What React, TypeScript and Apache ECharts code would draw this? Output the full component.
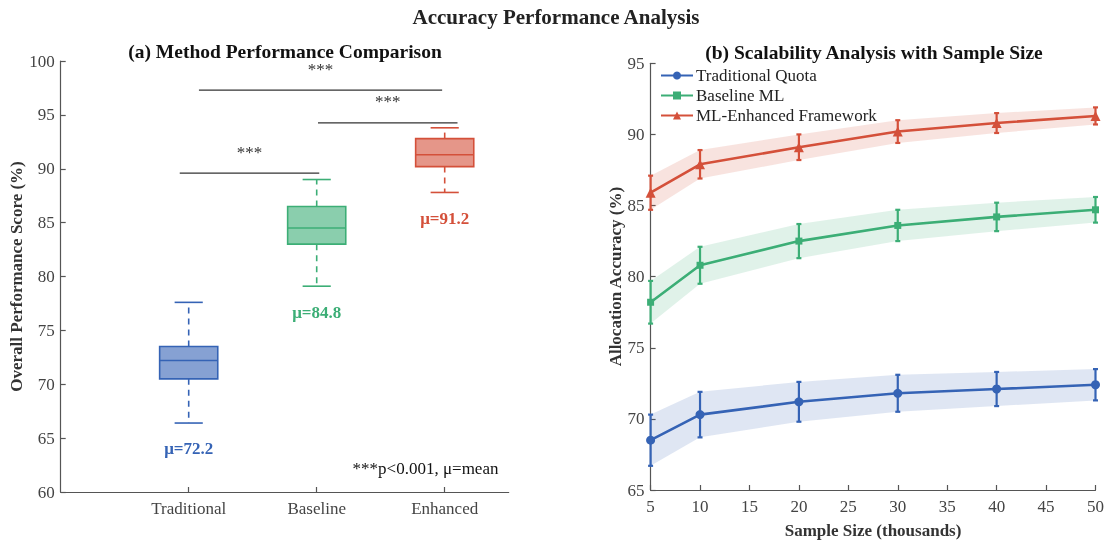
import React, { useEffect, useRef } from "react";
import * as echarts from "echarts";

// ---------- Data: (a) Method Performance Comparison ----------
const methods = ["Traditional", "Baseline", "Enhanced"];
const boxLow = [66.4, 79.1, 87.8];
const boxQ1 = [70.5, 83.0, 90.2];
const boxMedian = [72.2, 84.5, 91.3];
const boxQ3 = [73.5, 86.5, 92.8];
const boxHigh = [77.6, 89.0, 93.8];
const methodMeans = [72.2, 84.8, 91.2];
const methodColors = ["#3563b5", "#3cae76", "#d4503a"];

const sigStart = [0.93, 1.08, 2.01];
const sigEnd = [2.02, 2.98, 3.1];
const sigY = [89.6, 97.3, 94.25];
const sigText = ["***", "***", "***"];
const noteText = "***p<0.001, \u03bc=mean";

// ---------- Data: (b) Scalability Analysis ----------
const sampleSizes = [5, 10, 20, 30, 40, 50];
const seriesNames = ["Traditional Quota", "Baseline ML", "ML-Enhanced Framework"];
const tradMean = [68.5, 70.3, 71.2, 71.8, 72.1, 72.4];
const tradErr = [1.8, 1.6, 1.4, 1.3, 1.2, 1.1];
const baseMean = [78.2, 80.8, 82.5, 83.6, 84.2, 84.7];
const baseErr = [1.5, 1.3, 1.2, 1.1, 1.0, 0.9];
const enhMean = [85.9, 87.9, 89.1, 90.2, 90.8, 91.3];
const enhErr = [1.2, 1.0, 0.9, 0.8, 0.7, 0.6];
const lineColors = ["#3563b5", "#3cae76", "#d4503a"];
const lineSymbols = ["circle", "rect", "triangle"];
const lineSymbolSizes = [9, 7, 10];

const FONT = '"Liberation Serif", "Times New Roman", serif';

function rgba(hex: string, a: number) {
  const n = parseInt(hex.slice(1), 16);
  return `rgba(${(n >> 16) & 255},${(n >> 8) & 255},${n & 255},${a})`;
}

export default function App() {
  const ref = useRef<HTMLDivElement>(null);

  useEffect(() => {
    if (!ref.current) return;
    const chart = echarts.init(ref.current, undefined, { renderer: "svg" });

    const means = [tradMean, baseMean, enhMean];
    const errs = [tradErr, baseErr, enhErr];

    const axisLineStyle = { color: "#555", width: 1.2 };
    const tickLabel = { color: "#444", fontFamily: FONT, fontSize: 17 };
    const axisName = { color: "#333", fontFamily: FONT, fontSize: 17, fontWeight: "bold" as const };

    const boxHalf = 0.227;
    const capHalf = 0.11;
    const labelOffset = 2.4;

    const rightSeries: any[] = [];
    means.forEach((m, g) => {
      const e = errs[g];
      const color = lineColors[g];
      rightSeries.push({
        name: `${seriesNames[g]} band`,
        type: "custom",
        xAxisIndex: 1,
        yAxisIndex: 1,
        data: sampleSizes.map((x, i) => [x, m[i] - e[i], m[i] + e[i]]),
        encode: { x: 0, y: [1, 2] },
        silent: true,
        z: 1,
        renderItem: (params: any, api: any) => {
          if (params.dataIndex !== 0) return null;
          const upper = sampleSizes.map((x, i) => api.coord([x, m[i] + e[i]]));
          const lower = sampleSizes.map((x, i) => api.coord([x, m[i] - e[i]])).reverse();
          return {
            type: "polygon",
            shape: { points: upper.concat(lower) },
            style: { fill: rgba(color, 0.16), stroke: "none" },
          };
        },
      });
    });
    means.forEach((m, g) => {
      const e = errs[g];
      const color = lineColors[g];
      rightSeries.push({
        name: `${seriesNames[g]} error`,
        type: "custom",
        xAxisIndex: 1,
        yAxisIndex: 1,
        data: sampleSizes.map((x, i) => [x, m[i], e[i]]),
        encode: { x: 0, y: 1 },
        z: 3,
        renderItem: (params: any, api: any) => {
          const x = api.value(0);
          const v = api.value(1);
          const er = api.value(2);
          const top = api.coord([x, v + er]);
          const bot = api.coord([x, v - er]);
          const st = { stroke: color, lineWidth: 2.2 };
          return {
            type: "group",
            children: [
              { type: "line", shape: { x1: top[0], y1: top[1], x2: bot[0], y2: bot[1] }, style: st },
              { type: "line", shape: { x1: top[0] - 2.5, y1: top[1], x2: top[0] + 2.5, y2: top[1] }, style: st },
              { type: "line", shape: { x1: bot[0] - 2.5, y1: bot[1], x2: bot[0] + 2.5, y2: bot[1] }, style: st },
            ],
          };
        },
      });
    });
    means.forEach((m, g) => {
      const color = lineColors[g];
      rightSeries.push({
        name: seriesNames[g],
        type: "line",
        xAxisIndex: 1,
        yAxisIndex: 1,
        data: sampleSizes.map((x, i) => [x, m[i]]),
        symbol: lineSymbols[g],
        symbolSize: lineSymbolSizes[g],
        itemStyle: { color },
        lineStyle: { color, width: 2.6 },
        z: 4,
      });
    });

    const option: any = {
      animation: false,
      graphic: [
        {
          type: "text",
          x: 556,
          y: 17,
          style: { text: "Accuracy Performance Analysis", font: `bold 21px ${FONT}`, fill: "#222", align: "center", verticalAlign: "middle" },
        },
        {
          type: "text",
          x: 285,
          y: 51,
          style: { text: "(a) Method Performance Comparison", font: `bold 19.5px ${FONT}`, fill: "#111", align: "center", verticalAlign: "middle" },
        },
        {
          type: "text",
          x: 874,
          y: 52,
          style: { text: "(b) Scalability Analysis with Sample Size", font: `bold 19.5px ${FONT}`, fill: "#111", align: "center", verticalAlign: "middle" },
        },
      ],
      legend: {
        data: seriesNames,
        orient: "vertical",
        left: 660,
        top: 67,
        itemWidth: 32,
        itemHeight: 10,
        itemGap: 3,
        padding: 0,
        textStyle: { color: "#222", fontFamily: FONT, fontSize: 17, lineHeight: 17, padding: [0, 0, 0, -2] },
      },
      grid: [
        { left: 60.7, top: 61, width: 448, height: 431 },
        { left: 650.6, top: 63.3, width: 447.4, height: 431.2 },
      ],
      xAxis: [
        {
          gridIndex: 0,
          type: "value",
          min: 0,
          max: 3.5,
          interval: 1,
          axisLine: { lineStyle: axisLineStyle },
          axisTick: { inside: true, length: 5, lineStyle: axisLineStyle, customValues: [1, 2, 3] },
          axisLabel: {
            ...tickLabel,
            margin: 8,
            customValues: [1, 2, 3],
            formatter: (v: number) => methods[Math.round(v) - 1] ?? "",
          },
          splitLine: { show: false },
        },
        {
          gridIndex: 1,
          type: "value",
          min: 5,
          max: 50,
          interval: 5,
          name: "Sample Size (thousands)",
          nameLocation: "middle",
          nameGap: 32,
          nameTextStyle: axisName,
          axisLine: { lineStyle: axisLineStyle },
          axisTick: { inside: true, length: 5, lineStyle: axisLineStyle },
          axisLabel: { ...tickLabel, margin: 8 },
          splitLine: { show: false },
        },
      ],
      yAxis: [
        {
          gridIndex: 0,
          type: "value",
          min: 60,
          max: 100,
          interval: 5,
          name: "Overall Performance Score (%)",
          nameLocation: "middle",
          nameGap: 33,
          nameTextStyle: axisName,
          axisLine: { show: true, lineStyle: axisLineStyle },
          axisTick: { show: true, inside: true, length: 5, lineStyle: axisLineStyle },
          axisLabel: { ...tickLabel, margin: 6 },
          splitLine: { show: false },
        },
        {
          gridIndex: 1,
          type: "value",
          min: 65,
          max: 95,
          interval: 5,
          name: "Allocation Accuracy (%)",
          nameLocation: "middle",
          nameGap: 26,
          nameTextStyle: axisName,
          axisLine: { show: true, lineStyle: axisLineStyle },
          axisTick: { show: true, inside: true, length: 5, lineStyle: axisLineStyle },
          axisLabel: { ...tickLabel, margin: 6 },
          splitLine: { show: false },
        },
      ],
      series: [
        {
          name: "boxes",
          type: "custom",
          xAxisIndex: 0,
          yAxisIndex: 0,
          data: methods.map((_, i) => [i + 1, boxLow[i], boxQ1[i], boxMedian[i], boxQ3[i], boxHigh[i], methodMeans[i]]),
          encode: { x: 0, y: [1, 5] },
          z: 3,
          renderItem: (params: any, api: any) => {
            const x = api.value(0);
            const color = methodColors[params.dataIndex];
            const pLo = api.coord([x, api.value(1)]);
            const pQ1 = api.coord([x, api.value(2)]);
            const pMed = api.coord([x, api.value(3)]);
            const pQ3 = api.coord([x, api.value(4)]);
            const pHi = api.coord([x, api.value(5)]);
            const pLab = api.coord([x, api.value(1) - labelOffset]);
            const hw = api.size([boxHalf, 0])[0];
            const cw = api.size([capHalf, 0])[0];
            const cx = pLo[0];
            const solid = { stroke: color, lineWidth: 1.6 };
            const dashed = { stroke: color, lineWidth: 1.6, lineDash: [6, 5] };
            return {
              type: "group",
              children: [
                { type: "line", shape: { x1: cx, y1: pQ1[1], x2: cx, y2: pLo[1] }, style: dashed },
                { type: "line", shape: { x1: cx, y1: pQ3[1], x2: cx, y2: pHi[1] }, style: dashed },
                { type: "line", shape: { x1: cx - cw, y1: pLo[1], x2: cx + cw, y2: pLo[1] }, style: solid },
                { type: "line", shape: { x1: cx - cw, y1: pHi[1], x2: cx + cw, y2: pHi[1] }, style: solid },
                {
                  type: "rect",
                  shape: { x: cx - hw, y: pQ3[1], width: 2 * hw, height: pQ1[1] - pQ3[1] },
                  style: { fill: rgba(color, 0.6), stroke: color, lineWidth: 1.6 },
                },
                { type: "line", shape: { x1: cx - hw, y1: pMed[1], x2: cx + hw, y2: pMed[1] }, style: solid },
                {
                  type: "text",
                  x: cx,
                  y: pLab[1],
                  style: {
                    text: "\u03bc=" + api.value(6).toFixed(1),
                    fill: color,
                    font: `bold 17px ${FONT}`,
                    align: "center",
                    verticalAlign: "middle",
                  },
                },
              ],
            };
          },
        },
        {
          name: "significance",
          type: "custom",
          xAxisIndex: 0,
          yAxisIndex: 0,
          data: sigStart.map((s, i) => [s, sigEnd[i], sigY[i]]),
          encode: { x: [0, 1], y: 2 },
          z: 2,
          renderItem: (params: any, api: any) => {
            const s = api.value(0);
            const e = api.value(1);
            const y = api.value(2);
            const p1 = api.coord([s, y]);
            const p2 = api.coord([e, y]);
            const pt = api.coord([(s + e) / 2, y + 1.95]);
            return {
              type: "group",
              children: [
                { type: "line", shape: { x1: p1[0], y1: p1[1], x2: p2[0], y2: p2[1] }, style: { stroke: "#333", lineWidth: 1.2 } },
                {
                  type: "text",
                  x: pt[0],
                  y: pt[1],
                  style: { text: sigText[params.dataIndex], fill: "#333", font: `17px ${FONT}`, align: "center", verticalAlign: "middle" },
                },
              ],
            };
          },
        },
        {
          name: "note",
          type: "custom",
          xAxisIndex: 0,
          yAxisIndex: 0,
          data: [[3.42, 62.2]],
          encode: { x: 0, y: 1 },
          renderItem: (params: any, api: any) => {
            const p = api.coord([api.value(0), api.value(1)]);
            return {
              type: "text",
              x: p[0],
              y: p[1],
              style: { text: noteText, fill: "#111", font: `17px ${FONT}`, align: "right", verticalAlign: "middle" },
            };
          },
        },
        ...rightSeries,
      ],
    };

    chart.setOption(option);
    return () => chart.dispose();
  }, []);

  return <div ref={ref} style={{ position: "fixed", left: 0, top: 0, width: 1107, height: 544 }} />;
}
